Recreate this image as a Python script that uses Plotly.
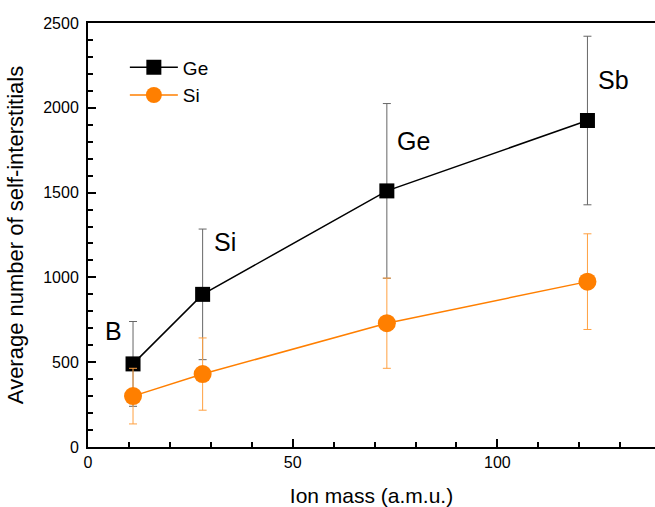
import plotly.graph_objects as go

ion_mass = [11, 28, 73, 122]
ion_labels = ["B", "Si", "Ge", "Sb"]
ge_values = [490, 900, 1510, 1925]
ge_errors = [250, 385, 515, 497]
si_values = [300, 430, 730, 975]
si_errors = [164, 213, 266, 282]

# label anchor positions in data units
label_x = [6.2, 33.4, 79.4, 128.3]
label_y = [684, 1209, 1804, 2164]

BLACK = "#000000"
ORANGE = "#FF7F00"
FONT = "Liberation Sans, Arial, sans-serif"

fig = go.Figure()
fig.add_trace(go.Scatter(
    x=ion_mass, y=ge_values, name="Ge", mode="lines+markers",
    line=dict(color=BLACK, width=1.5),
    marker=dict(symbol="square", size=15, color=BLACK),
    error_y=dict(type="data", array=ge_errors, visible=True,
                 color="#666666", thickness=1, width=4),
))
fig.add_trace(go.Scatter(
    x=ion_mass, y=si_values, name="Si", mode="lines+markers",
    line=dict(color=ORANGE, width=1.5),
    marker=dict(symbol="circle", size=18, color=ORANGE),
    error_y=dict(type="data", array=si_errors, visible=True,
                 color="#FFA040", thickness=1, width=4),
))

annots = []
for lab, ax_, ay_ in zip(ion_labels, label_x, label_y):
    annots.append(dict(x=ax_, y=ay_, text=lab, showarrow=False, xref="x", yref="y",
                       font=dict(size=25, color=BLACK, family=FONT)))

fig.update_layout(
    width=655, height=507,
    margin=dict(l=88, r=0, t=23, b=60, autoexpand=False),
    paper_bgcolor="white", plot_bgcolor="white",
    font=dict(family=FONT, size=16, color=BLACK),
    showlegend=True,
    legend=dict(x=0.065, y=0.94, xanchor="left", yanchor="top",
                bgcolor="rgba(0,0,0,0)", font=dict(size=19, family=FONT),
                itemwidth=48, tracegroupgap=0),
    annotations=annots,
    xaxis=dict(
        range=[0, 138.5], tickvals=[0, 50, 100], ticks="inside", ticklen=8,
        tickwidth=1.5, tickcolor=BLACK, automargin=False,
        minor=dict(dtick=10, tick0=0, ticks="inside", ticklen=5, tickwidth=1.5, tickcolor=BLACK),
        showline=True, linecolor=BLACK, linewidth=2, mirror=True,
        showgrid=False, zeroline=False,
        title=dict(text="Ion mass (a.m.u.)", font=dict(size=21, family=FONT), standoff=18),
        tickfont=dict(size=16),
    ),
    yaxis=dict(
        range=[0, 2500], tickvals=[0, 500, 1000, 1500, 2000, 2500], ticks="inside",
        ticklen=8, tickwidth=1.5, tickcolor=BLACK, automargin=False,
        ticklabelstandoff=4,
        minor=dict(dtick=100, tick0=0, ticks="inside", ticklen=5, tickwidth=1.5, tickcolor=BLACK),
        showline=True, linecolor=BLACK, linewidth=2, mirror=False,
        showgrid=False, zeroline=False,
        title=dict(text="Average number of self-interstitials", font=dict(size=22, family=FONT), standoff=14),
        tickfont=dict(size=16),
    ),
)

fig.write_html("out.html", config={"displayModeBar": False},
               post_script="document.body.style.margin='0';")
